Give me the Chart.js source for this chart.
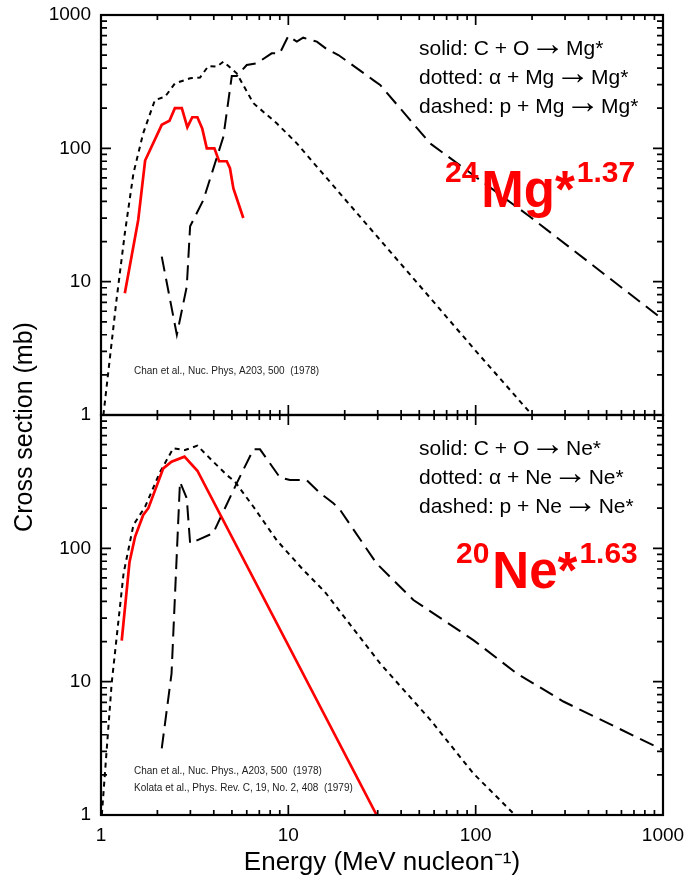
<!DOCTYPE html>
<html><head><meta charset="utf-8">
<script src="https://cdn.jsdelivr.net/npm/chart.js@4.4.1/dist/chart.umd.min.js"></script>
<style>
html,body{margin:0;padding:0;background:#fff}
#wrap{position:relative;width:694px;height:887px;background:#fff;overflow:hidden}
canvas{position:absolute;left:0;top:0}
</style>
</head><body>
<div id="wrap"><canvas id="cTop" width="694" height="887"></canvas><canvas id="cBot" width="694" height="887"></canvas></div>
<script>
// ---------------- data ----------------
// 24Mg* panel
const mgSolidE = [1.34, 1.58, 1.72, 2.11, 2.32, 2.48, 2.70, 2.89, 3.07, 3.27, 3.47, 3.67, 4.03, 4.27, 4.69, 4.88, 5.09, 5.75];
const mgSolidS = [8.2, 29, 81, 150, 161, 200, 200, 144, 171, 171, 141, 100, 100, 80, 80, 71, 50, 30];
const mgDotE = [1.03, 1.21, 1.34, 1.49, 1.68, 1.94, 2.20, 2.48, 2.99, 3.38, 3.74, 4.15, 4.50, 5.30, 6.51, 8.67, 11.1, 15.0, 20, 50, 100, 200];
const mgDotS = [1, 7.3, 23, 65, 130, 230, 244, 307, 335, 340, 414, 410, 447, 365, 218, 154, 109, 66.6, 41.7, 9.4, 3.03, 1];
const mgDashE = [2.11, 2.54, 2.87, 2.99, 3.52, 4.50, 4.99, 5.30, 6.0, 6.78, 8.15, 9.0, 10.0, 11.1, 12.0, 14.2, 16.0, 18.5, 28.4, 30.9, 57.1, 195, 1000];
const mgDashS = [15.4, 4.0, 9.2, 26, 41, 122, 348, 348, 422, 434, 516, 516, 696, 631, 676, 631, 556, 501, 325, 299, 109, 30.7, 5.2];
// 20Ne* panel
const neSolidE = [1.29, 1.42, 1.52, 1.68, 1.79, 2.15, 2.38, 2.79, 3.27, 29.6];
const neSolidS = [20.3, 79, 122, 178, 200, 398, 447, 487, 382, 1];
const neDotE = [1.01, 1.14, 1.32, 1.49, 1.72, 2.07, 2.43, 2.81, 3.27, 3.97, 4.69, 5.19, 6.51, 8.67, 12.0, 15.7, 30.9, 57.1, 97.2, 162];
const neDotS = [1, 9.7, 65, 150, 205, 376, 562, 546, 589, 447, 355, 316, 205, 115, 69, 47, 13.7, 5.2, 2.05, 1];
const neDashE = [2.11, 2.38, 2.64, 2.87, 2.99, 3.97, 5.30, 6.51, 7.06, 9.0, 10.2, 12.5, 14.8, 17.4, 18.9, 29.6, 46.5, 97.2, 166, 294, 1000];
const neDashS = [3.16, 11.5, 316, 237, 109, 130, 307, 553, 553, 341, 325, 325, 259, 218, 194, 77, 41, 20.5, 11.5, 7.1, 3.07];

// tick labels and texts
const xTickLabels = [1, 10, 100, 1000];
const yTickLabelsTop = [1, 10, 100, 1000];
const yTickLabelsBot = [1, 10, 100];
const xTitle = 'Energy (MeV nucleon\u207B\u00B9)';
const yTitle = 'Cross section (mb)';
const mgLegend = ['solid: C + O \u2192 Mg*', 'dotted: \u03B1 + Mg \u2192 Mg*', 'dashed: p + Mg \u2192 Mg*'];
const neLegend = ['solid: C + O \u2192 Ne*', 'dotted: \u03B1 + Ne \u2192 Ne*', 'dashed: p + Ne \u2192 Ne*'];
const mgLabel = ['24', 'Mg*', '1.37'];
const neLabel = ['20', 'Ne*', '1.63'];
const mgCitation = ['Chan et al., Nuc. Phys, A203, 500  (1978)'];
const neCitation = ['Chan et al., Nuc. Phys., A203, 500  (1978)', 'Kolata et al., Phys. Rev. C, 19, No. 2, 408  (1979)'];

// ---------------- helpers ----------------
const FONT = "'Liberation Sans', Arial, Helvetica, sans-serif";
const pts = (xs, ys) => xs.map((v, i) => ({x: v, y: ys[i]}));
const RED = '#ff0000';

function series(E, S, kind) {
  const base = {data: pts(E, S), showLine: true, pointRadius: 0, tension: 0, borderCapStyle: 'butt', borderJoinStyle: 'miter'};
  if (kind === 'solid') return Object.assign(base, {borderColor: RED, borderWidth: 2.7});
  if (kind === 'dot') return Object.assign(base, {borderColor: '#000', borderWidth: 2, borderDash: [5, 4.5]});
  return Object.assign(base, {borderColor: '#000', borderWidth: 2, borderDash: [15, 7.5]});
}

const frameTicks = {
  id: 'frameTicks',
  afterDatasetsDraw(chart) {
    const {ctx, chartArea: a} = chart;
    const x = chart.scales.x, y = chart.scales.y;
    ctx.save();
    ctx.strokeStyle = '#000';
    ctx.lineWidth = 1.7;
    ctx.beginPath();
    for (let d = 1; d <= 1000; d *= 10) {
      for (let k = 1; k <= 9; k++) {
        const v = k * d;
        if (v > 1000) break;
        const major = k === 1;
        const px = x.getPixelForValue(v);
        const lx = major ? 10 : 5;
        ctx.moveTo(px, a.bottom); ctx.lineTo(px, a.bottom - lx);
        ctx.moveTo(px, a.top); ctx.lineTo(px, a.top + lx);
        const py = y.getPixelForValue(v);
        const ly = major ? 10 : 6;
        ctx.moveTo(a.left, py); ctx.lineTo(a.left + ly, py);
        ctx.moveTo(a.right, py); ctx.lineTo(a.right - ly, py);
      }
    }
    ctx.stroke();
    ctx.lineWidth = 2.2;
    ctx.strokeRect(a.left, a.top, a.right - a.left, a.bottom - a.top);
    ctx.restore();
  }
};

// draw a text line; the arrow glyph is enlarged into a fixed slot so it reads as a long thin arrow
function drawRich(ctx, text, x, y, size) {
  const parts = text.split('\u2192');
  let xx = x;
  const slot = 25;
  parts.forEach((p, i) => {
    ctx.font = size + 'px ' + FONT;
    ctx.textAlign = 'left';
    ctx.fillText(p, xx, y);
    xx += ctx.measureText(p).width;
    if (i < parts.length - 1) {
      ctx.font = '35px ' + FONT;
      ctx.textAlign = 'center';
      ctx.fillText('\u2192', xx + slot / 2, y);
      xx += slot;
    }
  });
  ctx.textAlign = 'left';
}

function annotPlugin(cfg) {
  return {
    id: 'annot',
    afterDraw(chart) {
      const ctx = chart.ctx, a = chart.chartArea;
      ctx.save();
      ctx.fillStyle = '#000';
      ctx.textAlign = 'left';
      ctx.textBaseline = 'alphabetic';
      cfg.legend.forEach((t, i) => drawRich(ctx, t, 419, a.top + 40 + i * 29, 21));
      // big red isotope label
      ctx.fillStyle = RED;
      let xx = cfg.labelX;
      const by = a.top + cfg.labelBase;
      ctx.font = 'bold 30px ' + FONT;
      ctx.fillText(cfg.label[0], xx, by - 25);
      xx += ctx.measureText(cfg.label[0]).width + 3;
      ctx.font = 'bold 51px ' + FONT;
      ctx.fillText(cfg.label[1], xx, by);
      xx += ctx.measureText(cfg.label[1]).width + 2;
      ctx.font = 'bold 30px ' + FONT;
      ctx.fillText(cfg.label[2], xx, by - 25);
      // citations
      ctx.fillStyle = '#222';
      ctx.font = '10px ' + FONT;
      ctx.textBaseline = 'middle';
      cfg.citation.forEach((t, i) => ctx.fillText(t, 134, a.top + cfg.citeY + i * 17));
      if (cfg.yTitle) {
        ctx.fillStyle = '#000';
        ctx.font = '25px ' + FONT;
        ctx.textAlign = 'center';
        ctx.translate(25, 427);
        ctx.rotate(-Math.PI / 2);
        ctx.fillText(cfg.yTitle, 0, 0);
      }
      ctx.restore();
    }
  };
}

function makeChart(id, datasets, o) {
  return new Chart(document.getElementById(id), {
    type: 'scatter',
    data: {datasets},
    options: {
      responsive: false, animation: false, devicePixelRatio: 1,
      layout: {padding: {left: 0, right: 31, top: o.top, bottom: 0}},
      plugins: {legend: {display: false}, tooltip: {enabled: false}},
      scales: {
        x: {
          type: 'logarithmic', min: 1, max: 1000,
          grid: {display: false, drawTicks: false}, border: {display: false},
          ticks: {display: o.xLabels, autoSkip: false, maxRotation: 0, padding: 9, color: '#000',
                  font: {family: FONT, size: 19},
                  callback: v => xTickLabels.includes(v) ? String(v) : ''},
          title: {display: o.xLabels, text: xTitle, color: '#000', font: {family: FONT, size: 26},
                  padding: {top: 0, bottom: 9}},
          afterFit: s => { s.height = o.xHeight; s.paddingLeft = 0; s.paddingRight = 0; }
        },
        y: {
          type: 'logarithmic', min: 1, max: 1000,
          grid: {display: false, drawTicks: false}, border: {display: false},
          ticks: {autoSkip: false, padding: 10, color: '#000', font: {family: FONT, size: 19},
                  callback: v => o.yLabels.includes(v) ? String(v) : ''},
          afterFit: s => { s.width = 101; s.paddingTop = 0; s.paddingBottom = 0; }
        }
      }
    },
    plugins: [frameTicks, annotPlugin(o.annot)]
  });
}

makeChart('cTop', [
  series(mgSolidE, mgSolidS, 'solid'),
  series(mgDotE, mgDotS, 'dot'),
  series(mgDashE, mgDashS, 'dash')
], {top: 15, xHeight: 887 - 415, xLabels: false, yLabels: yTickLabelsTop,
    annot: {legend: mgLegend, label: mgLabel, labelX: 445, labelBase: 192, citation: mgCitation, citeY: 356}});

makeChart('cBot', [
  series(neSolidE, neSolidS, 'solid'),
  series(neDotE, neDotS, 'dot'),
  series(neDashE, neDashS, 'dash')
], {top: 415, xHeight: 887 - 815, xLabels: true, yLabels: yTickLabelsBot,
    annot: {legend: neLegend, label: neLabel, labelX: 456, labelBase: 173, citation: neCitation, citeY: 356, yTitle: yTitle}});
</script>
</body></html>
